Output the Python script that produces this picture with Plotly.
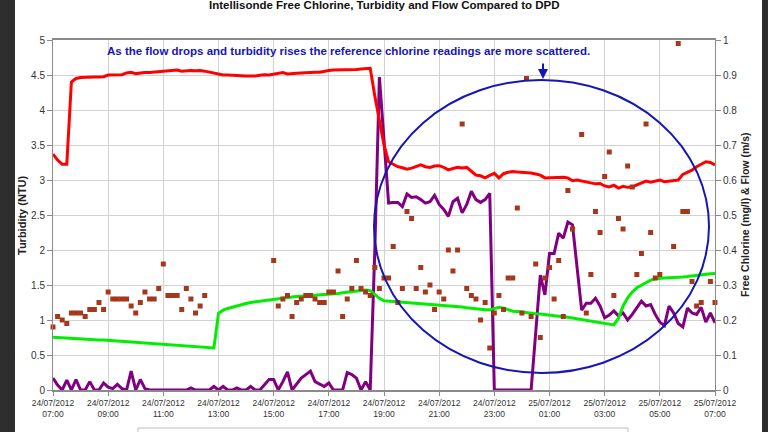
import plotly.graph_objects as go
import pandas as pd

# ---------------- data (10-minute readings, 24/07/2012 07:00 -> 25/07/2012 07:00) ----------------
times = pd.date_range("2012-07-24 07:00", periods=145, freq="10min")

tick_labels = ["24/07/2012<br>07:00", "24/07/2012<br>09:00", "24/07/2012<br>11:00",
               "24/07/2012<br>13:00", "24/07/2012<br>15:00", "24/07/2012<br>17:00",
               "24/07/2012<br>19:00", "24/07/2012<br>21:00", "24/07/2012<br>23:00",
               "25/07/2012<br>01:00", "25/07/2012<br>03:00", "25/07/2012<br>05:00",
               "25/07/2012<br>07:00"]

# Intellisonde free chlorine (mg/l) - right axis
chlorine = [
    0.674, 0.657, 0.645, 0.645, 0.880, 0.890, 0.893, 0.894, 0.895, 0.894,
    0.894, 0.895, 0.900, 0.900, 0.902, 0.901, 0.906, 0.908, 0.904, 0.906,
    0.907, 0.907, 0.908, 0.910, 0.910, 0.912, 0.914, 0.914, 0.911, 0.913,
    0.913, 0.912, 0.913, 0.911, 0.908, 0.905, 0.901, 0.900, 0.900, 0.900,
    0.899, 0.898, 0.897, 0.896, 0.897, 0.899, 0.901, 0.900, 0.902, 0.905,
    0.907, 0.903, 0.903, 0.905, 0.906, 0.907, 0.909, 0.908, 0.908, 0.911,
    0.913, 0.914, 0.914, 0.915, 0.914, 0.916, 0.916, 0.917, 0.918, 0.919,
    0.840, 0.770, 0.700, 0.652, 0.645, 0.638, 0.635, 0.631, 0.634, 0.638,
    0.643, 0.638, 0.636, 0.640, 0.641, 0.636, 0.629, 0.633, 0.636, 0.634,
    0.636, 0.625, 0.614, 0.612, 0.606, 0.613, 0.619, 0.606, 0.618, 0.622,
    0.624, 0.623, 0.622, 0.623, 0.620, 0.617, 0.614, 0.606, 0.607, 0.606,
    0.607, 0.608, 0.606, 0.598, 0.600, 0.597, 0.594, 0.593, 0.589, 0.590,
    0.583, 0.580, 0.585, 0.577, 0.582, 0.579, 0.580, 0.586, 0.592, 0.597,
    0.594, 0.597, 0.600, 0.595, 0.597, 0.597, 0.600, 0.616, 0.622, 0.628,
    0.638, 0.645, 0.652, 0.650, 0.643]

# Flow (m/s) - right axis
flow = [
    0.151, 0.150, 0.149, 0.148, 0.148, 0.147, 0.146, 0.145, 0.145, 0.144,
    0.143, 0.143, 0.142, 0.141, 0.140, 0.139, 0.138, 0.137, 0.136, 0.136,
    0.135, 0.134, 0.133, 0.132, 0.131, 0.130, 0.129, 0.128, 0.127, 0.126,
    0.125, 0.124, 0.123, 0.122, 0.121, 0.120, 0.219, 0.228, 0.233, 0.237,
    0.241, 0.244, 0.247, 0.250, 0.252, 0.254, 0.256, 0.258, 0.260, 0.262,
    0.263, 0.264, 0.266, 0.267, 0.268, 0.269, 0.270, 0.270, 0.271, 0.271,
    0.273, 0.274, 0.276, 0.278, 0.280, 0.282, 0.284, 0.285, 0.286, 0.284,
    0.273, 0.262, 0.255, 0.254, 0.253, 0.252, 0.252, 0.251, 0.250, 0.249,
    0.248, 0.247, 0.246, 0.244, 0.243, 0.242, 0.241, 0.240, 0.239, 0.237,
    0.235, 0.233, 0.231, 0.230, 0.229, 0.229, 0.233, 0.236, 0.234, 0.229,
    0.225, 0.224, 0.222, 0.221, 0.220, 0.218, 0.217, 0.215, 0.214, 0.213,
    0.211, 0.210, 0.208, 0.206, 0.204, 0.201, 0.199, 0.197, 0.195, 0.193,
    0.190, 0.188, 0.186, 0.205, 0.240, 0.263, 0.280, 0.292, 0.300, 0.308,
    0.314, 0.318, 0.320, 0.320, 0.321, 0.321, 0.322, 0.323, 0.324, 0.326,
    0.328, 0.330, 0.331, 0.332, 0.333]

# Turbidity (NTU) - left axis
turbidity = [
    0.17, 0.07, 0.00, 0.14, 0.00, 0.15, 0.00, 0.00, 0.12, 0.00,
    0.00, 0.10, 0.04, 0.02, 0.08, 0.02, 0.00, 0.27, 0.00, 0.15,
    0.02, 0.00, 0.00, 0.00, 0.00, 0.00, 0.00, 0.00, 0.00, 0.00,
    0.03, 0.00, 0.00, 0.00, 0.00, 0.05, 0.00, 0.05, 0.00, 0.00,
    0.03, 0.00, 0.00, 0.05, 0.00, 0.00, 0.08, 0.15, 0.15, 0.00,
    0.12, 0.26, 0.00, 0.08, 0.17, 0.22, 0.27, 0.12, 0.08, 0.05,
    0.10, 0.00, 0.00, 0.00, 0.25, 0.22, 0.17, 0.00, 0.12, 0.00,
    2.00, 4.47, 3.57, 2.67, 2.68, 2.68, 2.62, 2.80, 2.75, 2.76,
    2.72, 2.67, 2.69, 2.78, 2.65, 2.58, 2.48, 2.69, 2.74, 2.53,
    2.65, 2.84, 2.72, 2.68, 2.72, 2.81, 0.00, 0.00, 0.00, 0.00,
    0.00, 0.00, 0.00, 0.00, 0.00, 0.82, 1.64, 1.36, 1.95, 1.95,
    2.24, 2.17, 2.40, 2.36, 1.75, 1.14, 1.24, 1.24, 1.31, 1.20,
    1.03, 1.07, 1.13, 1.06, 1.10, 1.00, 1.08, 1.18, 1.27, 1.20,
    1.22, 1.08, 0.97, 0.92, 1.20, 1.10, 0.95, 0.90, 1.17, 1.10,
    1.08, 1.18, 0.97, 1.10, 0.96]

# DPD reference free chlorine (mg/l) - right axis, None = no sample
dpd = [
    0.18, 0.21, 0.20, 0.19, 0.22, 0.22, 0.22, 0.21, 0.23, 0.23,
    0.25, 0.23, 0.28, 0.26, 0.26, 0.26, 0.26, 0.24, 0.22, 0.25,
    0.28, 0.26, 0.26, 0.29, 0.36, 0.27, 0.27, 0.27, 0.23, 0.29,
    0.26, 0.22, 0.24, 0.27, None, None, None, None, None, None,
    None, None, None, None, None, None, None, None, 0.37, 0.24,
    0.26, 0.27, 0.21, 0.25, 0.26, 0.27, 0.27, 0.26, 0.25, 0.25,
    0.28, 0.28, 0.34, 0.21, 0.26, 0.29, 0.37, 0.29, 0.28, 0.27,
    0.35, 0.29, 0.32, 0.32, 0.41, 0.25, 0.29, 0.51, 0.49, 0.29,
    0.35, 0.28, 0.30, 0.23, 0.28, 0.26, 0.40, 0.34, 0.40, 0.76,
    0.29, 0.27, 0.26, 0.20, 0.25, 0.12, 0.22, 0.27, 0.23, 0.32,
    0.32, 0.52, 0.22, 0.89, 0.21, 0.36, 0.15, 0.32, 0.35, 0.26,
    0.37, 0.21, 0.57, 0.46, None, 0.73, 0.22, 0.33, 0.51, 0.45,
    0.61, 0.68, 0.27, 0.49, 0.46, 0.64, 0.58, 0.33, 0.39, 0.76,
    0.45, 0.32, 0.33, None, None, 0.41, 0.99, 0.51, 0.51, 0.31,
    0.24, 0.25, None, 0.31, 0.25]

title_text = "Intellisonde Free Chlorine, Turbidity and Flow Compared to DPD"
note_text = "As the flow drops and turbidity rises the reference chlorine readings are more scattered."

# ---------------- figure ----------------
FONT = "Arial, 'Liberation Sans', sans-serif"
BLUE = "#1616b4"
GRID = "#d2d2d2"
AXIS = "#8a8a8a"

fig = go.Figure()
fig.add_trace(go.Scatter(x=times, y=turbidity, mode="lines", name="Turbidity",
                         line=dict(color="#800080", width=3), yaxis="y"))
fig.add_trace(go.Scatter(x=times, y=flow, mode="lines", name="Flow",
                         line=dict(color="#00ee00", width=3), yaxis="y2"))
fig.add_trace(go.Scatter(x=times, y=chlorine, mode="lines", name="Intellisonde Free Chlorine",
                         line=dict(color="#ff0000", width=3), yaxis="y2"))
fig.add_trace(go.Scatter(x=times, y=dpd, mode="markers", name="DPD",
                         marker=dict(symbol="square", size=5, color="#a5371a"),
                         yaxis="y2", cliponaxis=False))

L, R, T, B = 53, 53, 40, 42
W, H = 768, 432
pw, ph = W - L - R, H - T - B


def px(xp):
    return (xp - L) / pw


def py(yp):
    return (H - B - yp) / ph


fig.update_layout(
    width=W, height=H,
    margin=dict(l=L, r=R, t=T, b=B),
    paper_bgcolor="white", plot_bgcolor="white",
    showlegend=False,
    font=dict(family=FONT, color="#222"),
    xaxis=dict(range=[times[0], times[-1]], tickvals=list(times[::12]), ticktext=tick_labels,
               showgrid=True, gridcolor=GRID, gridwidth=1,
               showline=True, linecolor=AXIS, linewidth=1.5, mirror=True,
               ticks="outside", ticklen=4, tickcolor=AXIS,
               tickfont=dict(size=8.5, color="#333"), zeroline=False),
    yaxis=dict(range=[0, 5], dtick=0.5, showgrid=True, gridcolor=GRID,
               showline=True, linecolor=AXIS, linewidth=1, ticks="outside", ticklen=5,
               tickcolor=AXIS, tickfont=dict(size=10, color="#333"), zeroline=False),
    yaxis2=dict(range=[0, 1], dtick=0.1, overlaying="y", side="right", showgrid=False,
                showline=True, linecolor=AXIS, linewidth=1, ticks="outside", ticklen=5,
                tickcolor=AXIS, tickfont=dict(size=10, color="#333"), zeroline=False),
)

annotations = [
    dict(text="<b>" + title_text + "</b>", x=0.5, y=py(5), xref="paper", yref="paper",
         showarrow=False, font=dict(size=11.5, color="#111"), xanchor="center", yanchor="middle"),
    dict(text="<b>Turbidity (NTU)</b>", x=px(22), y=0.5, xref="paper", yref="paper",
         showarrow=False, textangle=-90, font=dict(size=11, color="#222"),
         xanchor="center", yanchor="middle"),
    dict(text="<b>Free Chlorine (mg/l) & Flow (m/s)</b>", x=px(745), y=0.5, xref="paper",
         yref="paper", showarrow=False, textangle=-90, font=dict(size=10.5, color="#222"),
         xanchor="center", yanchor="middle"),
    dict(text="<b>" + note_text + "</b>", x=px(348), y=py(51), xref="paper", yref="paper",
         showarrow=False, font=dict(size=11.5, color=BLUE), xanchor="center", yanchor="middle"),
    dict(text="", x=px(543), y=py(79), xref="paper", yref="paper", showarrow=True,
         ax=0, ay=-17, arrowhead=2, arrowsize=1, arrowwidth=2, arrowcolor=BLUE),
]
fig.update_layout(annotations=annotations)

shapes = [
    # highlight ellipse
    dict(type="circle", xref="paper", yref="paper", x0=px(374), x1=px(709),
         y0=py(373), y1=py(80), line=dict(color=BLUE, width=2)),
    # partially visible legend box
    dict(type="rect", xref="paper", yref="paper", x0=px(138), x1=px(628),
         y0=py(445), y1=py(428), line=dict(color="#bdbdbd", width=1)),
    # dark strips at the page edges
    dict(type="rect", xref="paper", yref="paper", x0=px(-2), x1=px(15),
         y0=py(440), y1=py(-10), fillcolor="#2e2e2e", line=dict(width=0), layer="above"),
    dict(type="rect", xref="paper", yref="paper", x0=px(762), x1=px(770),
         y0=py(440), y1=py(-10), fillcolor="#2e2e2e", line=dict(width=0), layer="above"),
]
fig.update_layout(shapes=shapes)

fig.write_html("out.html")
